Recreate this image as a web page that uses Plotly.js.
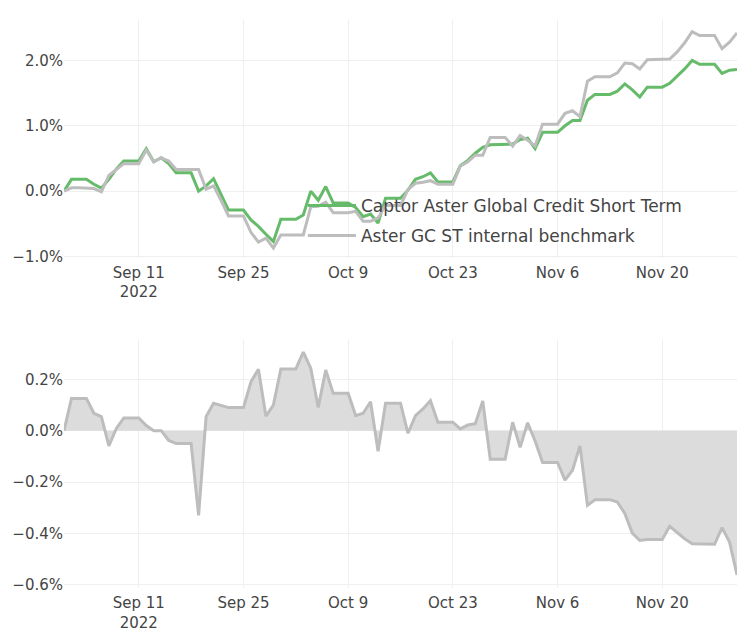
<!DOCTYPE html>
<html>
<head>
<meta charset="utf-8">
<script src="https://cdn.plot.ly/plotly-3.0.1.min.js"></script>
<style>html,body{margin:0;padding:0;background:#fff;}#chart{width:742px;height:632px;}</style>
</head>
<body>
<div id="chart"></div>
<script>
const dates = [
'2022-09-01','2022-09-02','2022-09-03','2022-09-04','2022-09-05','2022-09-06','2022-09-07','2022-09-08','2022-09-09','2022-09-10',
'2022-09-11','2022-09-12','2022-09-13','2022-09-14','2022-09-15','2022-09-16','2022-09-17','2022-09-18','2022-09-19','2022-09-20',
'2022-09-21','2022-09-22','2022-09-23','2022-09-24','2022-09-25','2022-09-26','2022-09-27','2022-09-28','2022-09-29','2022-09-30',
'2022-10-01','2022-10-02','2022-10-03','2022-10-04','2022-10-05','2022-10-06','2022-10-07','2022-10-08','2022-10-09','2022-10-10',
'2022-10-11','2022-10-12','2022-10-13','2022-10-14','2022-10-15','2022-10-16','2022-10-17','2022-10-18','2022-10-19','2022-10-20',
'2022-10-21','2022-10-22','2022-10-23','2022-10-24','2022-10-25','2022-10-26','2022-10-27','2022-10-28','2022-10-29','2022-10-30',
'2022-10-31','2022-11-01','2022-11-02','2022-11-03','2022-11-04','2022-11-05','2022-11-06','2022-11-07','2022-11-08','2022-11-09',
'2022-11-10','2022-11-11','2022-11-12','2022-11-13','2022-11-14','2022-11-15','2022-11-16','2022-11-17','2022-11-18','2022-11-19',
'2022-11-20','2022-11-21','2022-11-22','2022-11-23','2022-11-24','2022-11-25','2022-11-26','2022-11-27','2022-11-28','2022-11-29',
'2022-11-30'];

const fundName = 'Captor Aster Global Credit Short Term';
const benchName = 'Aster GC ST internal benchmark';

// cumulative return, %
const fund = [
0.00,0.18,0.18,0.18,0.105,0.045,0.18,0.34,0.46,0.46,
0.46,0.65,0.45,0.51,0.42,0.28,0.28,0.28,0.00,0.08,
0.19,-0.04,-0.29,-0.29,-0.29,-0.44,-0.54,-0.66,-0.77,-0.43,
-0.43,-0.43,-0.365,0.00,-0.14,0.07,-0.18,-0.18,-0.18,-0.25,
-0.39,-0.35,-0.49,-0.11,-0.11,-0.11,0.015,0.18,0.22,0.28,
0.14,0.14,0.14,0.39,0.47,0.58,0.67,0.71,0.71,0.71,
0.72,0.79,0.81,0.65,0.90,0.90,0.90,1.00,1.08,1.08,
1.39,1.48,1.48,1.48,1.53,1.64,1.55,1.44,1.59,1.59,
1.59,1.65,1.76,1.87,2.00,1.94,1.94,1.94,1.80,1.85,
1.86];

const bench = [
0.00,0.05,0.05,0.05,0.04,-0.01,0.24,0.33,0.42,0.42,
0.42,0.63,0.45,0.51,0.46,0.33,0.33,0.33,0.33,0.03,
0.08,-0.14,-0.38,-0.38,-0.38,-0.63,-0.78,-0.72,-0.87,-0.67,
-0.67,-0.67,-0.67,-0.24,-0.23,-0.17,-0.33,-0.33,-0.33,-0.31,
-0.46,-0.46,-0.41,-0.22,-0.22,-0.22,0.025,0.12,0.135,0.16,
0.107,0.107,0.107,0.38,0.45,0.55,0.55,0.82,0.82,0.82,
0.69,0.85,0.78,0.69,1.025,1.025,1.025,1.19,1.23,1.14,
1.68,1.75,1.75,1.75,1.81,1.96,1.95,1.87,2.01,2.01,
2.01,2.02,2.13,2.27,2.44,2.38,2.38,2.38,2.18,2.28,
2.42];

// relative (fund minus benchmark), %
const relative = [
0.000,0.126,0.126,0.126,0.068,0.055,-0.059,0.009,0.050,0.050,
0.050,0.020,0.000,0.000,-0.038,-0.050,-0.050,-0.050,-0.330,0.055,
0.107,0.098,0.090,0.090,0.090,0.190,0.240,0.057,0.100,0.241,
0.241,0.241,0.306,0.244,0.091,0.237,0.146,0.146,0.146,0.059,
0.068,0.113,-0.080,0.107,0.107,0.107,-0.010,0.059,0.085,0.117,
0.033,0.033,0.033,0.007,0.022,0.027,0.116,-0.111,-0.111,-0.111,
0.033,-0.065,0.031,-0.040,-0.124,-0.124,-0.124,-0.193,-0.154,-0.059,
-0.291,-0.269,-0.269,-0.269,-0.278,-0.323,-0.399,-0.428,-0.424,-0.424,
-0.424,-0.373,-0.398,-0.421,-0.441,-0.442,-0.443,-0.443,-0.378,-0.434,
-0.562];

const topTickVals = [-1, 0, 1, 2];
const topTickText = ['\u22121.0%', '0.0%', '1.0%', '2.0%'];
const bottomTickVals = [-0.6, -0.4, -0.2, 0, 0.2];
const bottomTickText = ['\u22120.6%', '\u22120.4%', '\u22120.2%', '0.0%', '0.2%'];

const green = '#66bb6a';
const grey = '#bdbdbd';
const fontFam = 'DejaVu Sans, sans-serif';
const tickFont = {family: fontFam, size: 15, color: '#444'};

const traces = [
  {x: dates, y: fund, name: fundName, type: 'scatter', mode: 'lines', legendgroup: 'a',
   line: {color: green, width: 3}, xaxis: 'x', yaxis: 'y'},
  {x: dates, y: bench, name: benchName, type: 'scatter', mode: 'lines', legendgroup: 'b',
   line: {color: grey, width: 3}, xaxis: 'x', yaxis: 'y'},
  {x: dates, y: relative, name: 'Relative', type: 'scatter', mode: 'lines',
   fill: 'tozeroy', fillcolor: '#dcdcdc', showlegend: false,
   line: {color: grey, width: 3}, xaxis: 'x2', yaxis: 'y2'}
];

const xCommon = {
  type: 'date', range: ['2022-09-01', '2022-11-30'],
  tick0: '2022-09-11', dtick: 14 * 86400000,
  showgrid: true, gridcolor: '#efefef', zeroline: false, showline: false,
  ticks: '', ticklabelstandoff: 4, tickfont: tickFont
};

const layout = {
  width: 742, height: 632,
  margin: {l: 64, r: 5, t: 20, b: 44},
  paper_bgcolor: '#fff', plot_bgcolor: '#fff',
  font: {family: fontFam, color: '#444'},
  showlegend: true,
  legend: {x: 0.355, y: 0.7045, xanchor: 'left', yanchor: 'top',
           traceorder: 'grouped', tracegroupgap: 5,
           bgcolor: 'rgba(0,0,0,0)', font: {family: fontFam, size: 17, color: '#444'},
           itemwidth: 48},
  xaxis: Object.assign({}, xCommon, {anchor: 'y'}),
  xaxis2: Object.assign({}, xCommon, {anchor: 'y2'}),
  yaxis: {domain: [0.581, 1], range: [-1.023, 2.618], tickvals: topTickVals, ticktext: topTickText,
          showgrid: true, gridcolor: '#efefef',
          zeroline: false, tickfont: tickFont, anchor: 'x'},
  yaxis2: {domain: [0, 0.4366], range: [-0.6133, 0.3536], tickvals: bottomTickVals, ticktext: bottomTickText,
          showgrid: true, gridcolor: '#efefef',
          zeroline: false, tickfont: tickFont, anchor: 'x2'}
};

Plotly.newPlot('chart', traces, layout, {displayModeBar: false, staticPlot: true});
</script>
</body>
</html>
